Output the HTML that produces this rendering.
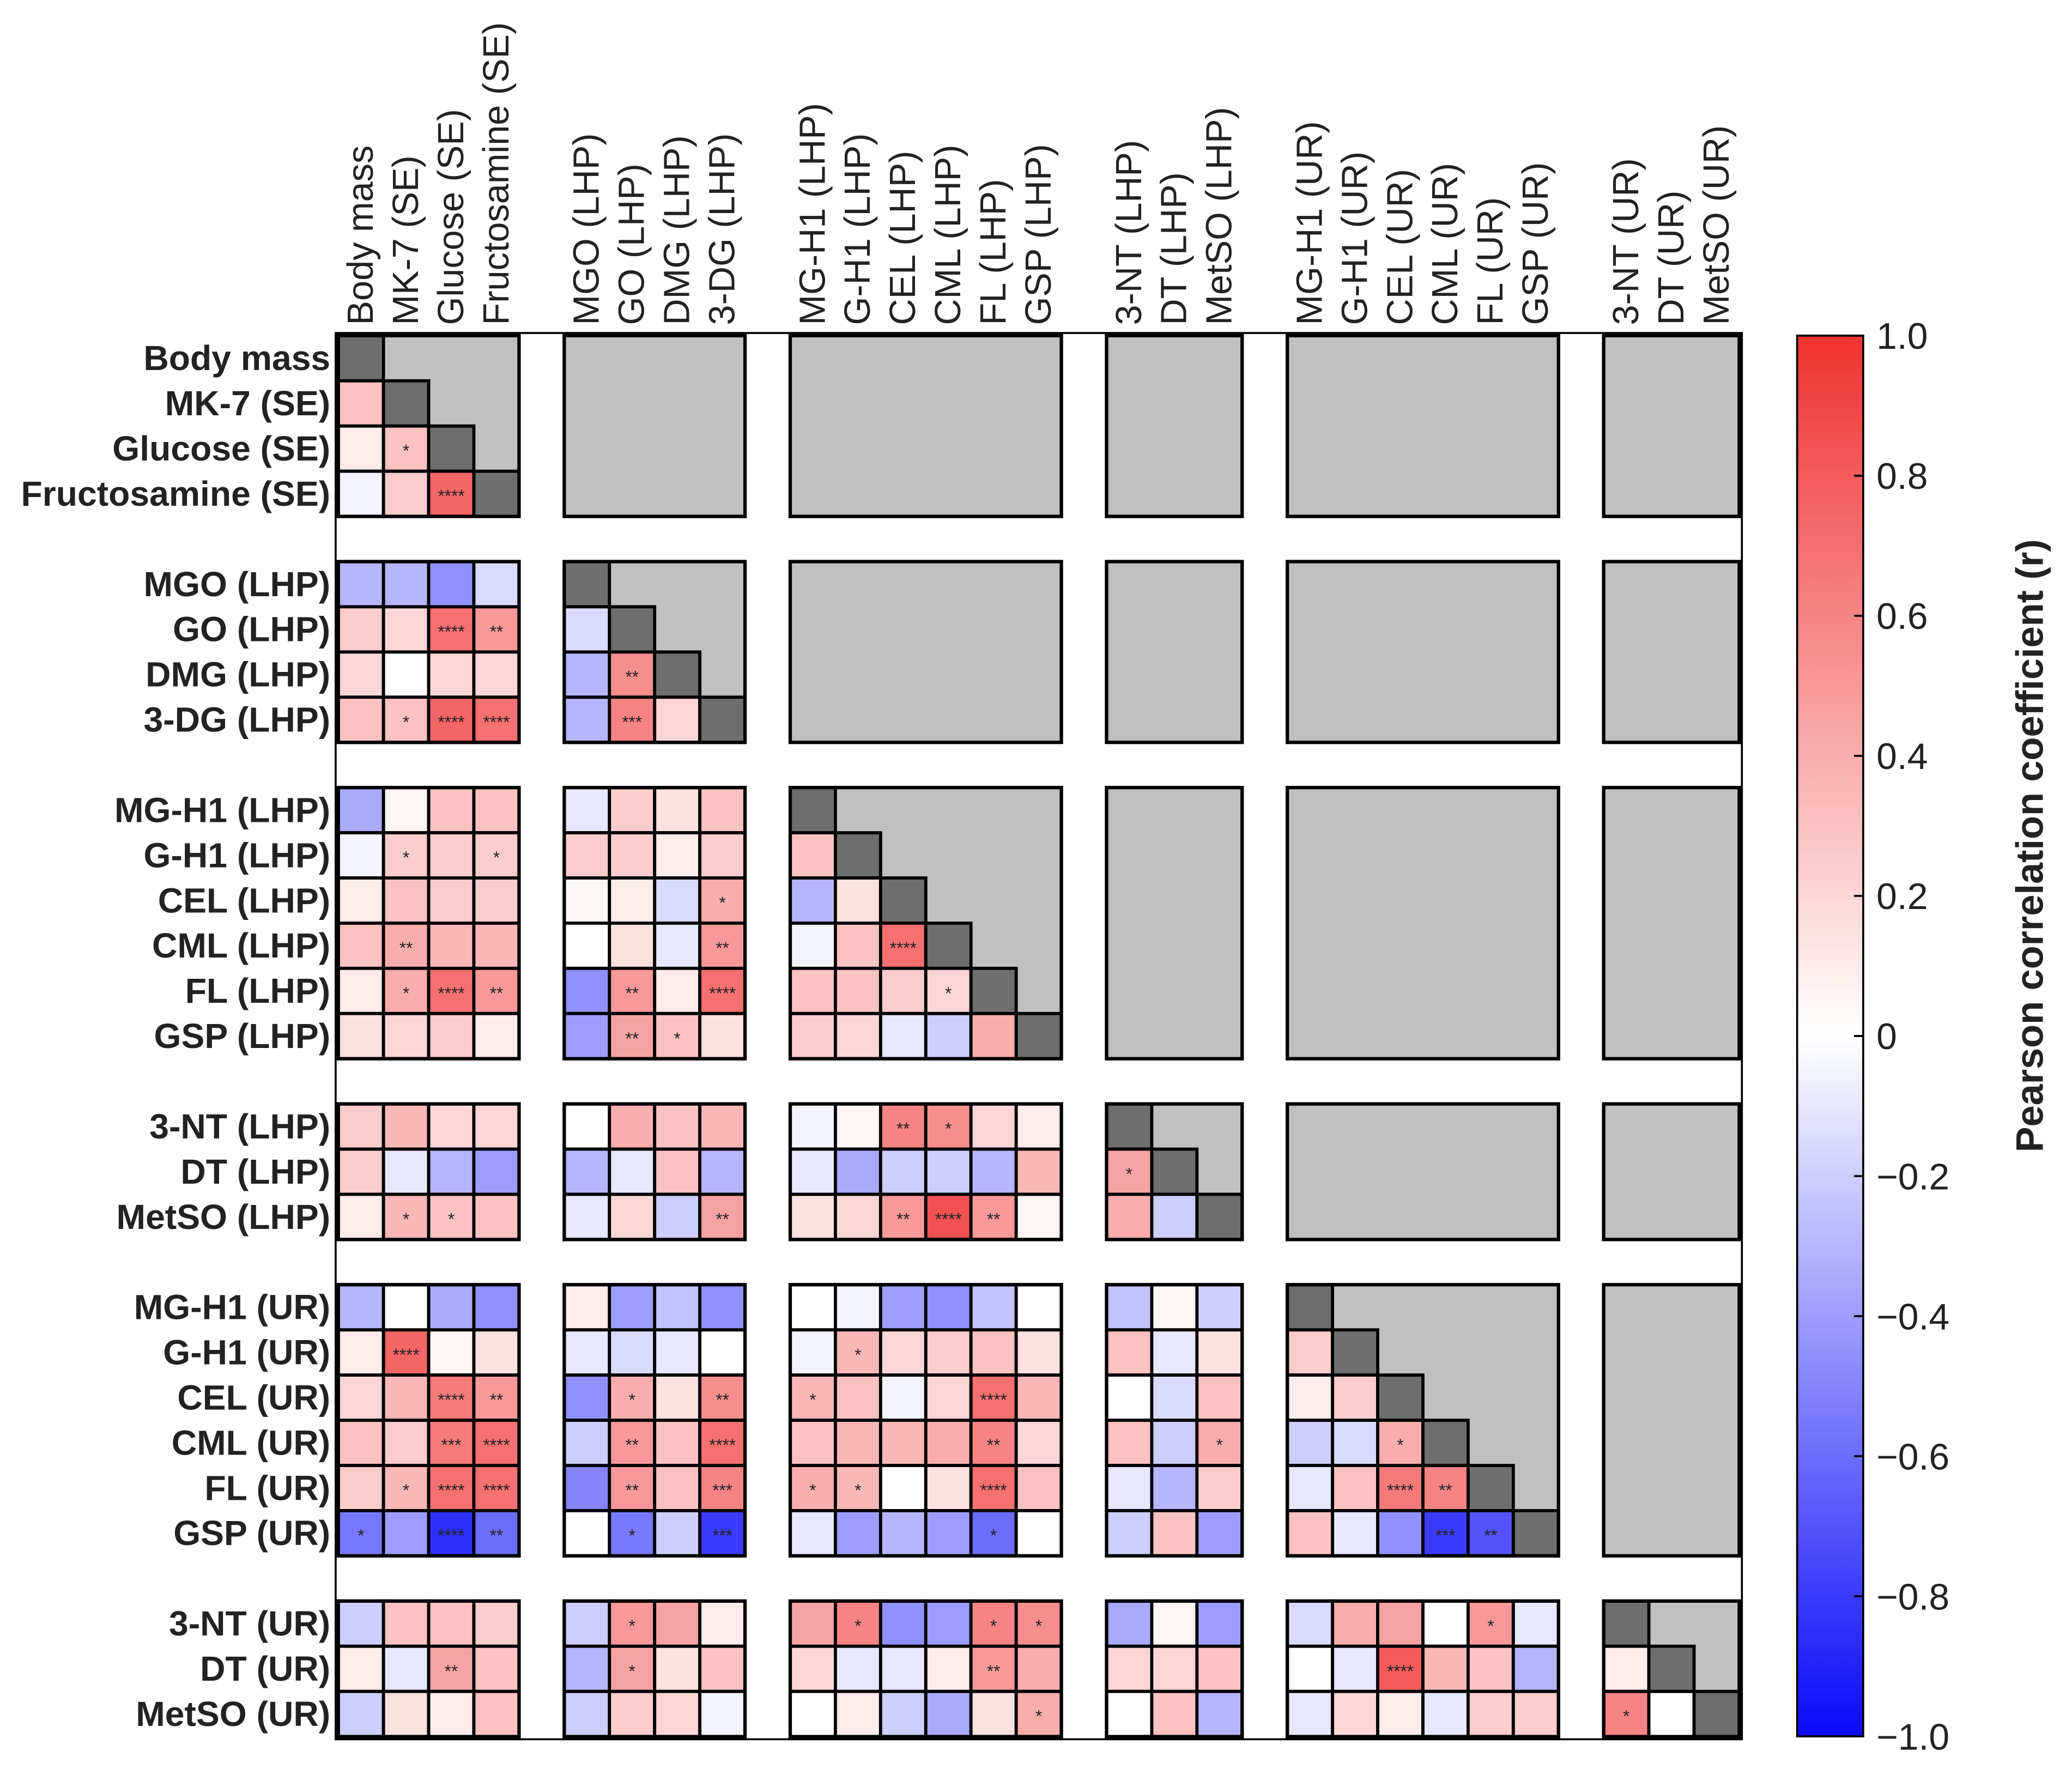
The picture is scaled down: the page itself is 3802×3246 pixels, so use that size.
<!DOCTYPE html>
<html><head><meta charset="utf-8"><style>
html,body{margin:0;padding:0;background:#fff;}
svg{display:block;font-family:"Liberation Sans","DejaVu Sans",sans-serif;}
</style></head><body>
<svg id="chart" width="3802" height="3246" viewBox="0 0 1568 1338.7" xmlns="http://www.w3.org/2000/svg">
<defs><linearGradient id="cbgrad" x1="0" y1="0" x2="0" y2="1">
<stop offset="0" stop-color="rgb(240,50,50)"/><stop offset="0.5" stop-color="#ffffff"/><stop offset="1" stop-color="rgb(10,10,250)"/></linearGradient></defs>
<g id="frame"></g>
<g id="cells"></g>
<g id="labels"></g>
<g id="colorbar"></g>
</svg>
<script>
const variables = ["Body mass","MK-7 (SE)","Glucose (SE)","Fructosamine (SE)","MGO (LHP)","GO (LHP)","DMG (LHP)","3-DG (LHP)","MG-H1 (LHP)","G-H1 (LHP)","CEL (LHP)","CML (LHP)","FL (LHP)","GSP (LHP)","3-NT (LHP)","DT (LHP)","MetSO (LHP)","MG-H1 (UR)","G-H1 (UR)","CEL (UR)","CML (UR)","FL (UR)","GSP (UR)","3-NT (UR)","DT (UR)","MetSO (UR)"];
const groupSizes = [4,4,6,3,6,3];
const corrRows = [
[],
[0.3],
[0.1,0.3],
[-0.05,0.25,0.75],
[-0.3,-0.3,-0.45,-0.15],
[0.25,0.2,0.7,0.5,-0.15],
[0.2,0.0,0.2,0.2,-0.3,0.55],
[0.3,0.3,0.75,0.7,-0.3,0.6,0.2],
[-0.35,0.05,0.3,0.3,-0.1,0.25,0.15,0.3],
[-0.05,0.25,0.25,0.25,0.25,0.25,0.1,0.25,0.3],
[0.1,0.3,0.25,0.25,0.05,0.1,-0.15,0.4,-0.3,0.15],
[0.3,0.4,0.35,0.35,0.0,0.15,-0.1,0.5,-0.05,0.3,0.7],
[0.1,0.4,0.7,0.5,-0.45,0.5,0.1,0.7,0.3,0.3,0.25,0.2],
[0.15,0.2,0.25,0.1,-0.4,0.45,0.3,0.15,0.25,0.2,-0.1,-0.2,0.4],
[0.25,0.35,0.2,0.2,0.0,0.4,0.3,0.35,-0.05,0.05,0.6,0.55,0.2,0.1],
[0.25,-0.1,-0.3,-0.4,-0.3,-0.1,0.3,-0.3,-0.1,-0.35,-0.2,-0.2,-0.3,0.35,0.45],
[0.1,0.35,0.3,0.3,-0.1,0.2,-0.2,0.45,0.15,0.2,0.5,0.85,0.5,0.05,0.4,-0.2],
[-0.3,0.0,-0.35,-0.45,0.1,-0.4,-0.25,-0.45,0.0,-0.05,-0.4,-0.45,-0.25,0.0,-0.25,0.05,-0.2],
[0.1,0.75,0.05,0.15,-0.1,-0.15,-0.1,0.0,-0.05,0.35,0.2,0.25,0.3,0.15,0.3,-0.1,0.15,0.25],
[0.2,0.35,0.65,0.5,-0.45,0.4,0.15,0.55,0.35,0.3,-0.05,0.2,0.7,0.35,0.0,-0.15,0.3,0.1,0.25],
[0.3,0.25,0.65,0.7,-0.2,0.5,0.3,0.7,0.3,0.35,0.35,0.4,0.6,0.2,0.3,-0.2,0.4,-0.2,-0.15,0.4],
[0.25,0.35,0.7,0.7,-0.5,0.5,0.3,0.6,0.4,0.35,0.0,0.15,0.7,0.3,-0.1,-0.3,0.25,-0.1,0.3,0.65,0.6],
[-0.55,-0.4,-0.85,-0.6,0.0,-0.55,-0.2,-0.8,-0.1,-0.4,-0.3,-0.4,-0.6,0.0,-0.2,0.3,-0.4,0.3,-0.1,-0.45,-0.8,-0.7],
[-0.2,0.3,0.3,0.25,-0.2,0.5,0.45,0.1,0.45,0.6,-0.45,-0.4,0.6,0.55,-0.35,0.05,-0.4,-0.15,0.4,0.45,0.0,0.5,-0.1],
[0.1,-0.1,0.45,0.3,-0.3,0.45,0.15,0.3,0.2,-0.1,-0.1,0.1,0.5,0.4,0.2,0.2,0.3,0.0,-0.1,0.8,0.35,0.3,-0.3,0.1],
[-0.2,0.15,0.1,0.3,-0.2,0.25,0.2,-0.05,0.0,0.1,-0.2,-0.35,0.15,0.4,0.0,0.3,-0.3,-0.1,0.2,0.1,-0.1,0.25,0.25,0.6,0.0]
];
const sigRows  = [2,3,5,5,6,7,7,7,7,9,9,10,11,11,11,12,12,12,12,12,12,13,13,14,14,15,16,16,16,16,16,16,18,18,19,19,19,19,19,19,20,20,20,20,20,20,20,21,21,21,21,21,21,21,21,21,21,22,22,22,22,22,22,22,22,23,23,23,23,23,24,24,24,24,25,25];
const sigCols  = [1,2,2,3,5,1,2,3,5,1,3,7,1,7,10,1,2,3,5,7,11,5,6,10,11,14,1,2,7,10,11,12,1,9,2,3,5,7,8,12,2,3,5,7,12,16,19,1,2,3,5,7,8,9,12,19,20,0,2,3,5,7,12,20,21,5,9,12,13,21,2,5,12,19,13,23];
const sigStars = ["*","****","****","**","**","*","****","****","***","*","*","*","**","**","****","*","****","**","**","****","*","**","*","**","*","*","*","*","**","**","****","**","****","*","****","**","*","**","*","****","***","****","**","****","**","*","*","*","****","****","**","***","*","*","****","****","**","*","****","**","*","***","*","***","**","*","*","*","*","*","**","*","**","****","*","*"];
const cbTicks = [1.0,0.8,0.6,0.4,0.2,0,-0.2,-0.4,-0.6,-0.8,-1.0];

const NS="http://www.w3.org/2000/svg";
const X0=256, Y0=254, CELL=34.2;
const groupOf=[], unitPos=[], groupStart=[];
(function(){let u=0,k=0;groupSizes.forEach((s,g)=>{groupStart.push(k);for(let i=0;i<s;i++){groupOf.push(g);unitPos.push(u);u++;k++;}u++;});})();
function xPos(i){return X0+unitPos[i]*CELL;}
function yPos(i){return Y0+unitPos[i]*CELL;}
function colorOf(r){r=Math.max(-1,Math.min(1,r));const t=Math.abs(r);
 if(r>=0)return `rgb(${Math.round(255-15*t)},${Math.round(255-205*t)},${Math.round(255-205*t)})`;
 return `rgb(${Math.round(255-245*t)},${Math.round(255-245*t)},${Math.round(255-5*t)})`;}
function mk(tag,attrs,parent){const e=document.createElementNS(NS,tag);for(const k in attrs)e.setAttribute(k,attrs[k]);parent.appendChild(e);return e;}
const cells=document.getElementById('cells'), labels=document.getElementById('labels'), frame=document.getElementById('frame'), cb=document.getElementById('colorbar');

const fr=mk('rect',{x:X0-2,y:Y0-2,width:31*CELL+4,height:31*CELL+4,fill:'none',stroke:'#000','stroke-width':1.5},frame);



for(let gr=0;gr<groupSizes.length;gr++){for(let gc=gr;gc<groupSizes.length;gc++){
 const x=xPos(groupStart[gc]), y=yPos(groupStart[gr]), w=groupSizes[gc]*CELL, h=groupSizes[gr]*CELL;
 const b=mk('rect',{x:x,y:y,width:w,height:h,fill:'#c0c0c0'},cells);
 
 
}}
const sigMap={};
sigRows.forEach((r,k)=>{sigMap[r+'_'+sigCols[k]]=sigStars[k];});
for(let i=0;i<variables.length;i++){
 for(let j=0;j<=i;j++){
  const x=xPos(j), y=yPos(i);
  const isDiag=(i===j);
  const c=mk('rect',{x:x,y:y,width:CELL,height:CELL,fill:isDiag?'#6e6e6e':colorOf(corrRows[i][j]),stroke:'#000','stroke-width':2.4},cells);
  
  
  const s=sigMap[i+'_'+j];
  if(s){const t=mk('text',{x:x+CELL/2,y:y+CELL/2+6,'text-anchor':'middle','font-size':13,fill:'#222'},cells);t.textContent=s;
   
   }
 }
}
for(let gr=0;gr<groupSizes.length;gr++){for(let gc=0;gc<groupSizes.length;gc++){
 const x=xPos(groupStart[gc]), y=yPos(groupStart[gr]);
 const o=mk('rect',{x:x,y:y,width:groupSizes[gc]*CELL,height:groupSizes[gr]*CELL,fill:'none',stroke:'#000','stroke-width':2.6},cells);
 
 
}}
variables.forEach((v,i)=>{
 const t=mk('text',{x:250,y:yPos(i)+CELL/2+9,'text-anchor':'end','font-size':26.5,'font-weight':'bold',fill:'#222'},labels);
 t.textContent=v;
 
 
 const cx=xPos(i)+CELL/2+9;
 const c=mk('text',{x:0,y:0,'text-anchor':'start','font-size':27.5,fill:'#222',transform:`translate(${cx},246) rotate(-90)`},labels);
 c.textContent=v;
 
 
});
const CBX=1360, CBW=50, CBT=254, CBB=1314;
const bar=mk('rect',{x:CBX,y:CBT,width:CBW,height:CBB-CBT,fill:'url(#cbgrad)',stroke:'#000','stroke-width':1.5},cb);


function cbY(v){return CBT+(1-v)/2*(CBB-CBT);}
cbTicks.forEach(v=>{
 const y=cbY(v);
 mk('line',{x1:CBX+CBW-7,x2:CBX+CBW,y1:y,y2:y,stroke:'#000','stroke-width':1.5},cb);
 const t=mk('text',{x:1420,y:y+10,'font-size':28,fill:'#222'},cb);
 t.textContent=(v===0)?'0':(v<0?'\u2212':'')+Math.abs(v).toFixed(1);
 
 
});
const cl=mk('text',{x:0,y:0,'text-anchor':'middle','font-size':29,'font-weight':'bold',fill:'#222',transform:'translate(1546,640) rotate(-90)'},cb);
cl.textContent='Pearson correlation coefficient (r)';


</script>
</body></html>
